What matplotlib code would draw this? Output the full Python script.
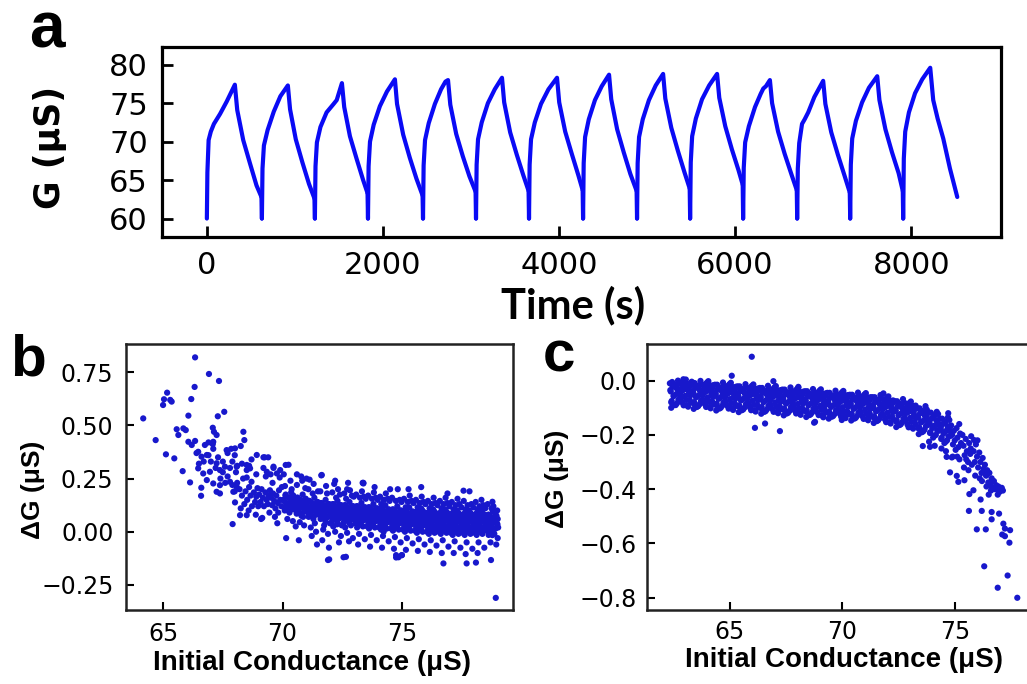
import numpy as np
import matplotlib.pyplot as plt

plt.rcParams['font.family'] = 'DejaVu Sans'
plt.rcParams['xtick.direction'] = 'in'
plt.rcParams['ytick.direction'] = 'in'

blue_line = '#0a0af5'
blue_dot = '#1818cc'

# ---- panel a: conductance vs time (one list per pulse cycle) ----
a_t = [
    [0, 6, 20, 45, 80, 150, 225, 318, 345, 413, 489, 564, 620],
    [625, 632, 648, 690, 760, 835, 920, 945, 1010, 1085, 1160, 1222],
    [1227, 1234, 1250, 1290, 1360, 1440, 1475, 1534, 1560, 1625, 1700, 1775, 1825],
    [1830, 1837, 1853, 1895, 1965, 2045, 2136, 2160, 2230, 2305, 2380, 2450],
    [2455, 2462, 2478, 2520, 2590, 2660, 2710, 2739, 2765, 2832, 2907, 2982, 3052],
    [3057, 3064, 3080, 3122, 3192, 3270, 3352, 3377, 3445, 3520, 3595, 3654],
    [3659, 3666, 3682, 3725, 3795, 3880, 3977, 4002, 4070, 4145, 4220, 4268],
    [4273, 4280, 4296, 4338, 4408, 4485, 4568, 4593, 4660, 4735, 4810, 4881],
    [4886, 4893, 4909, 4951, 5021, 5098, 5182, 5207, 5275, 5350, 5425, 5484],
    [5489, 5496, 5512, 5554, 5624, 5705, 5795, 5820, 5888, 5963, 6038, 6086],
    [6091, 6098, 6114, 6156, 6226, 6290, 6320, 6350, 6395, 6420, 6488, 6563, 6638, 6700],
    [6705, 6712, 6728, 6760, 6790, 6830, 6900, 7000, 7025, 7092, 7167, 7242, 7302],
    [7307, 7314, 7330, 7372, 7442, 7520, 7614, 7639, 7707, 7782, 7857, 7904],
    [7909, 7916, 7932, 7974, 8044, 8125, 8216, 8250, 8300, 8364, 8440, 8523],
]
a_g = [
    [60.0, 66.0, 70.2, 71.3, 72.3, 73.6, 75.2, 77.4, 74.1, 70.2, 67.2, 64.3, 62.8],
    [60.0, 66.5, 69.5, 71.5, 73.9, 75.9, 77.3, 74.2, 70.3, 67.3, 64.5, 62.6],
    [60.0, 66.8, 69.9, 71.9, 73.8, 74.9, 75.4, 77.6, 74.5, 70.7, 67.8, 65.0, 63.3],
    [60.0, 66.8, 70.0, 72.2, 74.6, 76.5, 78.1, 74.9, 70.9, 67.9, 65.2, 63.0],
    [60.0, 66.9, 70.2, 72.4, 74.9, 76.8, 77.8, 78.0, 74.8, 71.0, 68.1, 65.5, 63.5],
    [60.0, 67.0, 70.3, 72.5, 75.0, 76.8, 78.3, 75.1, 71.2, 68.3, 65.6, 63.6],
    [60.0, 67.0, 70.3, 72.5, 74.9, 76.8, 78.3, 75.1, 71.3, 68.4, 65.6, 63.7],
    [60.0, 67.2, 70.6, 72.9, 75.4, 77.2, 78.7, 75.5, 71.6, 68.6, 65.8, 63.6],
    [60.0, 67.2, 70.6, 72.9, 75.4, 77.3, 78.8, 75.6, 71.8, 68.8, 66.0, 63.9],
    [60.0, 67.3, 70.7, 73.0, 75.5, 77.3, 78.8, 75.7, 72.0, 69.0, 66.3, 64.4],
    [60.0, 66.6, 69.9, 72.0, 74.5, 76.2, 76.9, 77.2, 78.0, 75.0, 71.3, 68.4, 65.8, 63.7],
    [60.0, 66.5, 69.8, 72.3, 72.9, 73.8, 75.8, 77.9, 74.9, 71.2, 68.3, 65.6, 63.4],
    [60.0, 67.0, 70.4, 72.7, 75.1, 77.0, 78.5, 75.4, 71.6, 68.6, 65.9, 63.6],
    [60.0, 67.8, 71.3, 73.8, 76.3, 78.1, 79.6, 75.4, 73.0, 70.4, 66.5, 62.8],
]
a_xticks = [0, 2000, 4000, 6000, 8000]
a_yticks = [60, 65, 70, 75, 80]

# ---- panel b: dG vs initial conductance (potentiation) ----
b_sparse = [
    (66.34, 0.820), (66.92, 0.742), (67.34, 0.709), (66.32, 0.681), (65.17, 0.654),
    (65.04, 0.623), (65.30, 0.620), (65.00, 0.596), (65.36, 0.612), (66.18, 0.624),
    (64.17, 0.533), (66.06, 0.546), (67.56, 0.564), (67.29, 0.543), (64.69, 0.431),
    (65.57, 0.482), (65.85, 0.486), (65.95, 0.478), (65.64, 0.455), (67.08, 0.489),
    (67.13, 0.470), (67.24, 0.455), (68.36, 0.470), (68.40, 0.431), (65.12, 0.364),
    (65.47, 0.345), (65.82, 0.285), (66.13, 0.232), (66.60, 0.207), (66.59, 0.169),
    (66.06, 0.423), (66.34, 0.427), (66.20, 0.408), (66.75, 0.408), (67.10, 0.423),
    (67.08, 0.412), (66.47, 0.376), (66.61, 0.353), (66.83, 0.361), (67.66, 0.384),
    (68.01, 0.392), (68.25, 0.403), (68.92, 0.361), (69.20, 0.350), (70.13, 0.314),
    (71.64, 0.267), (66.47, 0.298), (66.96, 0.282), (66.68, 0.274), (67.24, 0.322),
    (67.38, 0.290), (67.59, 0.306), (68.08, 0.306), (68.50, 0.314), (68.64, 0.298),
    (69.34, 0.282), (69.62, 0.306), (69.76, 0.274), (66.83, 0.243), (67.10, 0.227),
    (67.38, 0.219), (67.80, 0.235), (68.08, 0.211), (67.94, 0.188), (67.24, 0.188),
    (67.38, 0.180), (68.01, 0.138), (68.22, 0.078), (68.50, 0.078), (67.91, 0.036),
    (73.38, 0.227), (72.20, 0.240), (70.60, 0.270), (69.90, 0.290), (71.00, 0.250),
    (72.70, 0.200), (74.50, 0.200), (75.80, 0.210), (76.90, 0.180), (73.35, 0.230),
    (68.20, 0.200), (68.30, 0.170), (68.10, 0.230), (68.35, 0.250), (67.90, 0.220),
    (68.00, 0.190), (67.70, 0.260), (67.60, 0.230), (68.40, 0.130), (68.25, 0.110),
    (67.80, 0.300), (68.05, 0.280), (67.50, 0.280), (67.40, 0.250), (67.20, 0.300),
    (67.00, 0.330), (66.90, 0.360), (67.10, 0.390), (66.70, 0.330), (66.50, 0.320),
    (66.40, 0.370), (66.90, 0.420), (67.30, 0.350), (67.50, 0.330), (67.70, 0.370),
    (67.90, 0.330), (68.10, 0.310), (67.85, 0.390), (68.00, 0.360), (68.30, 0.320),
    (68.50, 0.290), (68.60, 0.310), (68.70, 0.340), (69.20, 0.300), (69.50, 0.270),
    (68.90, 0.270), (71.90, -0.133), (72.65, -0.118), (74.75, -0.121), (74.99, -0.110),
    (76.73, -0.149), (77.70, -0.149), (78.72, -0.133), (78.92, -0.311), (77.57, 0.193),
    (78.78, 0.141), (78.78, -0.016),
]
b_band = [
    (68.45, 0.19), (68.52, 0.15), (68.6, 0.21), (68.66, 0.17), (68.72, 0.12), (68.8, 0.185),
    (68.85, 0.14), (68.9, 0.165), (68.95, 0.205), (68.58, 0.10), (68.7, 0.235), (68.88, 0.08),
    (68.5, 0.255), (68.98, 0.12),
    (69.02, 0.175), (69.08, 0.14), (69.12, 0.2), (69.18, 0.16), (69.22, 0.12), (69.28, 0.185),
    (69.33, 0.15), (69.38, 0.13), (69.42, 0.17), (69.47, 0.195), (69.1, 0.06), (69.3, 0.26),
    (69.45, 0.09), (69.25, 0.35), (69.4, 0.35), (69.15, 0.065),
    (69.52, 0.16), (69.56, 0.125), (69.6, 0.18), (69.65, 0.145), (69.7, 0.11), (69.74, 0.17),
    (69.8, 0.135), (69.85, 0.195), (69.9, 0.15), (69.95, 0.12), (69.58, 0.23), (69.68, 0.07),
    (69.88, 0.255), (69.78, 0.04), (69.62, 0.3), (69.97, 0.21), (69.82, 0.09),
    (70.03, 0.15), (70.07, 0.115), (70.12, 0.17), (70.17, 0.135), (70.22, 0.1), (70.27, 0.16),
    (70.3, 0.125), (70.36, 0.185), (70.4, 0.14), (70.46, 0.105), (70.1, 0.215), (70.2, 0.06),
    (70.33, 0.24), (70.43, 0.05), (70.05, 0.27), (70.15, -0.03), (70.25, 0.315), (70.38, 0.2),
    (70.48, 0.16),
    (70.53, 0.14), (70.57, 0.105), (70.62, 0.16), (70.66, 0.125), (70.7, 0.09), (70.75, 0.15),
    (70.8, 0.115), (70.84, 0.175), (70.88, 0.135), (70.93, 0.1), (70.97, 0.155), (70.6, 0.22),
    (70.72, 0.045), (70.82, 0.24), (70.9, 0.03), (70.55, 0.025), (70.78, 0.26), (70.95, 0.205),
    (70.68, -0.04), (70.86, 0.07),
    (71.02, 0.125), (71.06, 0.09), (71.1, 0.145), (71.15, 0.11), (71.2, 0.075), (71.24, 0.135),
    (71.28, 0.1), (71.33, 0.16), (71.37, 0.12), (71.42, 0.085), (71.46, 0.14), (71.08, 0.2),
    (71.18, 0.02), (71.3, 0.225), (71.4, 0.0), (71.13, 0.245), (71.22, -0.02), (71.35, 0.04),
    (71.48, 0.19), (71.44, -0.06), (71.26, 0.18),
    (71.52, 0.115), (71.56, 0.08), (71.6, 0.135), (71.64, 0.1), (71.68, 0.065), (71.72, 0.125),
    (71.76, 0.09), (71.8, 0.15), (71.84, 0.11), (71.88, 0.07), (71.92, 0.13), (71.96, 0.095),
    (71.58, 0.19), (71.7, 0.01), (71.82, 0.215), (71.9, -0.01), (71.62, 0.265), (71.74, 0.03),
    (71.86, 0.18), (71.98, 0.04), (71.66, -0.04), (71.94, -0.075), (71.95, -0.13),
    (72.02, 0.11), (72.06, 0.075), (72.1, 0.13), (72.14, 0.095), (72.18, 0.06), (72.22, 0.12),
    (72.26, 0.085), (72.3, 0.145), (72.34, 0.105), (72.38, 0.065), (72.42, 0.125), (72.46, 0.09),
    (72.08, 0.185), (72.2, 0.0), (72.32, 0.2), (72.44, -0.02), (72.12, 0.025), (72.28, 0.035),
    (72.4, 0.175), (72.48, 0.03), (72.16, 0.225), (72.36, -0.05), (72.24, 0.16), (72.04, 0.04),
    (72.52, 0.105), (72.56, 0.07), (72.6, 0.125), (72.64, 0.09), (72.68, 0.055), (72.72, 0.115),
    (72.76, 0.08), (72.8, 0.14), (72.84, 0.1), (72.88, 0.06), (72.92, 0.12), (72.96, 0.085),
    (72.58, 0.18), (72.7, -0.005), (72.82, 0.195), (72.94, -0.03), (72.62, 0.02), (72.74, 0.23),
    (72.86, 0.03), (72.98, 0.165), (72.66, 0.155), (72.78, -0.045), (72.9, 0.17), (72.55, -0.12),
    (72.54, 0.04),
    (73.02, 0.1), (73.06, 0.065), (73.1, 0.12), (73.14, 0.085), (73.18, 0.05), (73.22, 0.11),
    (73.26, 0.075), (73.3, 0.135), (73.34, 0.095), (73.38, 0.055), (73.42, 0.115), (73.46, 0.08),
    (73.08, 0.175), (73.2, -0.01), (73.32, 0.19), (73.44, -0.035), (73.12, 0.02), (73.24, 0.16),
    (73.36, 0.025), (73.48, 0.155), (73.16, -0.06), (73.28, 0.035), (73.4, 0.165), (73.04, 0.04),
    (73.38, 0.23),
    (73.52, 0.095), (73.56, 0.06), (73.6, 0.115), (73.64, 0.08), (73.68, 0.045), (73.72, 0.105),
    (73.76, 0.07), (73.8, 0.13), (73.84, 0.09), (73.88, 0.05), (73.92, 0.11), (73.96, 0.075),
    (73.58, 0.17), (73.7, -0.015), (73.82, 0.185), (73.94, -0.04), (73.62, 0.015), (73.74, 0.155),
    (73.86, 0.02), (73.98, 0.15), (73.66, -0.07), (73.78, 0.03), (73.9, 0.16), (73.54, 0.025),
    (73.85, 0.21),
    (74.02, 0.09), (74.06, 0.055), (74.1, 0.11), (74.14, 0.075), (74.18, 0.04), (74.22, 0.1),
    (74.26, 0.065), (74.3, 0.125), (74.34, 0.085), (74.38, 0.045), (74.42, 0.105), (74.46, 0.07),
    (74.08, 0.165), (74.2, -0.02), (74.32, 0.18), (74.44, -0.045), (74.12, 0.01), (74.24, 0.15),
    (74.36, 0.015), (74.48, 0.145), (74.16, -0.075), (74.28, 0.025), (74.4, 0.155), (74.04, 0.02),
    (74.23, 0.0), (74.13, 0.13),
    (74.52, 0.085), (74.56, 0.05), (74.6, 0.105), (74.64, 0.07), (74.68, 0.035), (74.72, 0.095),
    (74.76, 0.06), (74.8, 0.12), (74.84, 0.08), (74.88, 0.04), (74.92, 0.1), (74.96, 0.065),
    (74.58, 0.16), (74.7, -0.025), (74.82, 0.2), (74.94, -0.05), (74.62, 0.005), (74.74, 0.145),
    (74.86, 0.01), (74.98, 0.14), (74.66, -0.08), (74.78, 0.02), (74.9, 0.15), (74.54, 0.015),
    (74.75, -0.11), (74.85, -0.12), (74.99, -0.11),
    (75.02, 0.08), (75.06, 0.045), (75.1, 0.1), (75.14, 0.065), (75.18, 0.03), (75.22, 0.09),
    (75.26, 0.055), (75.3, 0.115), (75.34, 0.075), (75.38, 0.035), (75.42, 0.095), (75.46, 0.06),
    (75.08, 0.155), (75.2, -0.03), (75.32, 0.17), (75.44, -0.055), (75.12, 0.0), (75.24, 0.14),
    (75.36, 0.005), (75.48, 0.135), (75.16, -0.085), (75.28, 0.015), (75.4, 0.145), (75.04, 0.01),
    (75.27, 0.2), (75.15, 0.115), (75.35, 0.05),
    (75.52, 0.075), (75.56, 0.04), (75.6, 0.095), (75.64, 0.06), (75.68, 0.025), (75.72, 0.085),
    (75.76, 0.05), (75.8, 0.11), (75.84, 0.07), (75.88, 0.03), (75.92, 0.09), (75.96, 0.055),
    (75.58, 0.15), (75.7, -0.035), (75.82, 0.165), (75.94, -0.06), (75.62, -0.005), (75.74, 0.135),
    (75.86, 0.0), (75.98, 0.13), (75.66, -0.09), (75.78, 0.01), (75.9, 0.14), (75.54, 0.005),
    (75.65, 0.115), (75.85, 0.1), (75.75, 0.075),
    (76.02, 0.07), (76.06, 0.035), (76.1, 0.09), (76.14, 0.055), (76.18, 0.02), (76.22, 0.08),
    (76.26, 0.045), (76.3, 0.105), (76.34, 0.065), (76.38, 0.025), (76.42, 0.085), (76.46, 0.05),
    (76.08, 0.145), (76.2, -0.04), (76.32, 0.16), (76.44, -0.065), (76.12, -0.01), (76.24, 0.13),
    (76.36, -0.005), (76.48, 0.125), (76.16, -0.095), (76.28, 0.005), (76.4, 0.135), (76.04, 0.0),
    (76.15, 0.11), (76.35, 0.095), (76.25, 0.075), (76.45, 0.01),
    (76.52, 0.07), (76.56, 0.035), (76.6, 0.09), (76.64, 0.055), (76.68, 0.02), (76.72, 0.08),
    (76.76, 0.045), (76.8, 0.105), (76.84, 0.065), (76.88, 0.025), (76.92, 0.085), (76.96, 0.05),
    (76.58, 0.145), (76.7, -0.04), (76.82, 0.16), (76.94, -0.07), (76.62, -0.01), (76.74, 0.13),
    (76.86, -0.005), (76.98, 0.12), (76.66, -0.1), (76.78, 0.005), (76.9, 0.135), (76.54, 0.0),
    (76.65, 0.11), (76.85, 0.095), (76.75, 0.075), (76.95, 0.01),
    (77.02, 0.065), (77.06, 0.03), (77.1, 0.085), (77.14, 0.05), (77.18, 0.015), (77.22, 0.075),
    (77.26, 0.04), (77.3, 0.1), (77.34, 0.06), (77.38, 0.02), (77.42, 0.08), (77.46, 0.045),
    (77.08, 0.14), (77.2, -0.045), (77.32, 0.155), (77.44, -0.075), (77.12, -0.015), (77.24, 0.125),
    (77.36, -0.01), (77.48, 0.115), (77.16, -0.1), (77.28, 0.0), (77.4, 0.13), (77.04, -0.005),
    (77.15, 0.105), (77.35, 0.09), (77.25, 0.07), (77.45, 0.005),
    (77.52, 0.065), (77.56, 0.03), (77.6, 0.085), (77.64, 0.05), (77.68, 0.015), (77.72, 0.075),
    (77.76, 0.04), (77.8, 0.1), (77.84, 0.06), (77.88, 0.02), (77.92, 0.08), (77.96, 0.045),
    (77.58, 0.145), (77.7, -0.05), (77.82, 0.19), (77.94, -0.08), (77.62, -0.015), (77.74, 0.125),
    (77.86, -0.01), (77.98, 0.115), (77.66, -0.105), (77.78, 0.0), (77.9, 0.13), (77.54, -0.005),
    (77.65, 0.105), (77.85, 0.09), (77.75, 0.07), (77.95, 0.005),
    (78.02, 0.065), (78.06, 0.03), (78.1, 0.085), (78.14, 0.05), (78.18, 0.015), (78.22, 0.075),
    (78.26, 0.04), (78.3, 0.1), (78.34, 0.06), (78.38, 0.02), (78.42, 0.08), (78.46, 0.045),
    (78.08, 0.14), (78.2, -0.05), (78.32, 0.15), (78.44, -0.075), (78.12, -0.015), (78.24, 0.12),
    (78.36, -0.01), (78.48, 0.11), (78.16, -0.1), (78.28, 0.0), (78.4, 0.125), (78.04, -0.005),
    (78.15, 0.105), (78.35, 0.09), (78.25, 0.07), (78.45, 0.005), (78.09, -0.145),
    (78.52, 0.06), (78.56, 0.025), (78.6, 0.08), (78.64, 0.045), (78.68, 0.01), (78.72, 0.07),
    (78.76, 0.035), (78.8, 0.095), (78.84, 0.055), (78.88, 0.015), (78.92, 0.075), (78.96, 0.04),
    (79.0, 0.06), (79.02, 0.02), (78.58, 0.13), (78.7, -0.05), (78.82, 0.12), (78.94, -0.06),
    (78.62, -0.015), (78.74, 0.11), (78.86, -0.01), (78.98, 0.1), (79.0, -0.03), (78.9, 0.09),
]
# extra points in the solid core of the band
b_core = [
    (70.05, 0.145), (70.09, 0.10), (70.13, 0.175), (70.21, 0.125), (70.25, 0.16), (70.29, 0.09),
    (70.37, 0.147), (70.41, 0.11), (70.45, 0.17), (70.49, 0.13),
    (70.55, 0.13), (70.59, 0.085), (70.63, 0.16), (70.71, 0.11), (70.75, 0.145), (70.79, 0.075),
    (70.87, 0.132), (70.91, 0.095), (70.95, 0.155), (70.99, 0.115),
    (71.05, 0.115), (71.09, 0.07), (71.13, 0.145), (71.21, 0.095), (71.25, 0.13), (71.29, 0.06),
    (71.37, 0.117), (71.41, 0.08), (71.45, 0.14), (71.49, 0.1),
    (71.55, 0.105), (71.59, 0.06), (71.63, 0.135), (71.71, 0.085), (71.75, 0.12), (71.79, 0.05),
    (71.87, 0.107), (71.91, 0.07), (71.95, 0.13), (71.99, 0.09),
    (72.05, 0.1), (72.09, 0.055), (72.13, 0.13), (72.21, 0.08), (72.25, 0.115), (72.29, 0.045),
    (72.37, 0.102), (72.41, 0.065), (72.45, 0.125), (72.49, 0.085),
    (72.55, 0.095), (72.59, 0.05), (72.63, 0.125), (72.71, 0.075), (72.75, 0.11), (72.79, 0.04),
    (72.87, 0.097), (72.91, 0.06), (72.95, 0.12), (72.99, 0.08),
    (73.05, 0.09), (73.09, 0.045), (73.13, 0.12), (73.21, 0.07), (73.25, 0.105), (73.29, 0.035),
    (73.37, 0.092), (73.41, 0.055), (73.45, 0.115), (73.49, 0.075),
    (73.55, 0.085), (73.59, 0.04), (73.63, 0.115), (73.71, 0.065), (73.75, 0.1), (73.79, 0.03),
    (73.87, 0.087), (73.91, 0.05), (73.95, 0.11), (73.99, 0.07),
    (74.05, 0.08), (74.09, 0.035), (74.13, 0.11), (74.21, 0.06), (74.25, 0.095), (74.29, 0.025),
    (74.37, 0.082), (74.41, 0.045), (74.45, 0.105), (74.49, 0.065),
    (74.55, 0.075), (74.59, 0.03), (74.63, 0.105), (74.71, 0.055), (74.75, 0.09), (74.79, 0.02),
    (74.87, 0.077), (74.91, 0.04), (74.95, 0.1), (74.99, 0.06),
    (75.05, 0.07), (75.09, 0.025), (75.13, 0.1), (75.21, 0.05), (75.25, 0.085), (75.29, 0.015),
    (75.37, 0.072), (75.41, 0.035), (75.45, 0.095), (75.49, 0.055),
    (75.55, 0.065), (75.59, 0.02), (75.63, 0.095), (75.71, 0.045), (75.75, 0.08), (75.79, 0.01),
    (75.87, 0.067), (75.91, 0.03), (75.95, 0.09), (75.99, 0.05),
    (76.05, 0.06), (76.09, 0.015), (76.13, 0.09), (76.21, 0.04), (76.25, 0.075), (76.29, 0.005),
    (76.37, 0.062), (76.41, 0.025), (76.45, 0.085), (76.49, 0.045),
    (76.55, 0.06), (76.59, 0.015), (76.63, 0.09), (76.71, 0.04), (76.75, 0.075), (76.79, 0.005),
    (76.87, 0.062), (76.91, 0.025), (76.95, 0.085), (76.99, 0.045),
    (77.05, 0.055), (77.09, 0.01), (77.13, 0.085), (77.21, 0.035), (77.25, 0.07), (77.29, 0.0),
    (77.37, 0.057), (77.41, 0.02), (77.45, 0.08), (77.49, 0.04),
    (77.55, 0.055), (77.59, 0.01), (77.63, 0.085), (77.71, 0.035), (77.75, 0.07), (77.79, 0.0),
    (77.87, 0.057), (77.91, 0.02), (77.95, 0.08), (77.99, 0.04),
    (78.05, 0.055), (78.09, 0.01), (78.13, 0.085), (78.21, 0.035), (78.25, 0.07), (78.29, 0.0),
    (78.37, 0.057), (78.41, 0.02), (78.45, 0.08), (78.49, 0.04),
    (78.55, 0.05), (78.59, 0.005), (78.63, 0.08), (78.71, 0.03), (78.75, 0.065), (78.79, -0.005),
    (78.87, 0.052), (78.91, 0.015), (78.95, 0.075), (78.99, 0.035),
]
b_xticks = [65, 70, 75]
b_yticks = [-0.25, 0.0, 0.25, 0.5, 0.75]

# ---- panel c: dG vs initial conductance (depression) ----
c_band = [
    (62.33, -0.01), (62.37, -0.04), (62.41, -0.075), (62.45, -0.023), (62.49, -0.057), (62.53, -0.09),
    (62.57, -0.015), (62.61, -0.05), (62.65, -0.083), (62.69, 0.0), (62.73, -0.033), (62.77, -0.067),
    (62.39, -0.1), (62.63, -0.027),
    (62.82, -0.066), (62.86, -0.016), (62.9, -0.036), (62.94, -0.091), (62.98, -0.001), (63.02, -0.031),
    (63.06, -0.071), (63.1, -0.011), (63.14, -0.096), (63.18, -0.046), (63.22, -0.021), (63.26, -0.081),
    (63.04, 0.004), (63.24, -0.054),
    (63.33, -0.009), (63.37, -0.044), (63.41, -0.079), (63.45, -0.027), (63.49, -0.061), (63.53, -0.097),
    (63.57, -0.019), (63.61, -0.054), (63.65, -0.087), (63.69, -0.001), (63.73, -0.037), (63.77, -0.071),
    (63.39, -0.104), (63.63, -0.031),
    (63.82, -0.072), (63.86, -0.022), (63.9, -0.042), (63.94, -0.097), (63.98, -0.007), (64.02, -0.037),
    (64.06, -0.077), (64.1, -0.017), (64.14, -0.102), (64.18, -0.052), (64.22, -0.027), (64.26, -0.087),
    (64.04, -0.002), (64.24, -0.06),
    (64.33, -0.015), (64.37, -0.05), (64.41, -0.085), (64.45, -0.033), (64.49, -0.067), (64.53, -0.103),
    (64.57, -0.025), (64.61, -0.06), (64.65, -0.093), (64.69, -0.007), (64.73, -0.043), (64.77, -0.077),
    (64.39, -0.11), (64.63, -0.037),
    (64.82, -0.078), (64.86, -0.028), (64.9, -0.048), (64.94, -0.103), (64.98, -0.013), (65.02, -0.043),
    (65.06, -0.083), (65.1, -0.023), (65.14, -0.108), (65.18, -0.058), (65.22, -0.033), (65.26, -0.093),
    (65.04, -0.008), (65.24, -0.066),
    (65.33, -0.021), (65.37, -0.056), (65.41, -0.091), (65.45, -0.039), (65.49, -0.073), (65.53, -0.109),
    (65.57, -0.031), (65.61, -0.066), (65.65, -0.099), (65.69, -0.013), (65.73, -0.049), (65.77, -0.083),
    (65.39, -0.116), (65.63, -0.043),
    (65.82, -0.084), (65.86, -0.034), (65.9, -0.054), (65.94, -0.109), (65.98, -0.019), (66.02, -0.049),
    (66.06, -0.089), (66.1, -0.029), (66.14, -0.114), (66.18, -0.064), (66.22, -0.039), (66.26, -0.099),
    (66.04, -0.014), (66.24, -0.072),
    (66.33, -0.027), (66.37, -0.062), (66.41, -0.097), (66.45, -0.045), (66.49, -0.079), (66.53, -0.115),
    (66.57, -0.037), (66.61, -0.072), (66.65, -0.105), (66.69, -0.019), (66.73, -0.055), (66.77, -0.089),
    (66.39, -0.122), (66.63, -0.049),
    (66.82, -0.09), (66.86, -0.04), (66.9, -0.06), (66.94, -0.115), (66.98, -0.025), (67.02, -0.055),
    (67.06, -0.095), (67.1, -0.035), (67.14, -0.12), (67.18, -0.07), (67.22, -0.045), (67.26, -0.105),
    (67.04, -0.02), (67.24, -0.078),
    (67.33, -0.033), (67.37, -0.068), (67.41, -0.103), (67.45, -0.051), (67.49, -0.085), (67.53, -0.121),
    (67.57, -0.043), (67.61, -0.078), (67.65, -0.111), (67.69, -0.025), (67.73, -0.061), (67.77, -0.095),
    (67.39, -0.128), (67.63, -0.055),
    (67.82, -0.096), (67.86, -0.046), (67.9, -0.066), (67.94, -0.121), (67.98, -0.031), (68.02, -0.061),
    (68.06, -0.101), (68.1, -0.041), (68.14, -0.126), (68.18, -0.076), (68.22, -0.051), (68.26, -0.111),
    (68.04, -0.026), (68.24, -0.084),
    (68.33, -0.039), (68.37, -0.074), (68.41, -0.109), (68.45, -0.057), (68.49, -0.091), (68.53, -0.127),
    (68.57, -0.049), (68.61, -0.084), (68.65, -0.117), (68.69, -0.031), (68.73, -0.067), (68.77, -0.101),
    (68.39, -0.134), (68.63, -0.061),
    (68.82, -0.102), (68.86, -0.052), (68.9, -0.072), (68.94, -0.127), (68.98, -0.037), (69.02, -0.067),
    (69.06, -0.107), (69.1, -0.047), (69.14, -0.132), (69.18, -0.082), (69.22, -0.057), (69.26, -0.117),
    (69.04, -0.032), (69.24, -0.09),
    (69.33, -0.045), (69.37, -0.08), (69.41, -0.115), (69.45, -0.063), (69.49, -0.097), (69.53, -0.133),
    (69.57, -0.055), (69.61, -0.09), (69.65, -0.123), (69.69, -0.037), (69.73, -0.073), (69.77, -0.107),
    (69.39, -0.14), (69.63, -0.067),
    (69.82, -0.108), (69.86, -0.058), (69.9, -0.078), (69.94, -0.133), (69.98, -0.043), (70.02, -0.073),
    (70.06, -0.113), (70.1, -0.053), (70.14, -0.138), (70.18, -0.088), (70.22, -0.063), (70.26, -0.123),
    (70.04, -0.038), (70.24, -0.096),
    (70.33, -0.052), (70.37, -0.087), (70.41, -0.122), (70.45, -0.07), (70.49, -0.104), (70.53, -0.14),
    (70.57, -0.062), (70.61, -0.097), (70.65, -0.13), (70.69, -0.044), (70.73, -0.08), (70.77, -0.114),
    (70.39, -0.147), (70.63, -0.074),
    (70.82, -0.116), (70.86, -0.066), (70.9, -0.086), (70.94, -0.141), (70.98, -0.051), (71.02, -0.081),
    (71.06, -0.121), (71.1, -0.061), (71.14, -0.146), (71.18, -0.096), (71.22, -0.071), (71.26, -0.131),
    (71.04, -0.046), (71.24, -0.104),
    (71.33, -0.061), (71.37, -0.096), (71.41, -0.131), (71.45, -0.079), (71.49, -0.113), (71.53, -0.149),
    (71.57, -0.071), (71.61, -0.106), (71.65, -0.139), (71.69, -0.053), (71.73, -0.089), (71.77, -0.123),
    (71.39, -0.156), (71.63, -0.083),
    (71.82, -0.128), (71.86, -0.078), (71.9, -0.098), (71.94, -0.153), (71.98, -0.063), (72.02, -0.093),
    (72.06, -0.133), (72.1, -0.073), (72.14, -0.158), (72.18, -0.108), (72.22, -0.083), (72.26, -0.143),
    (72.04, -0.058), (72.24, -0.116),
    (72.33, -0.076), (72.37, -0.111), (72.41, -0.146), (72.45, -0.094), (72.49, -0.128), (72.53, -0.164),
    (72.57, -0.086), (72.61, -0.121), (72.65, -0.154), (72.69, -0.068), (72.73, -0.104), (72.77, -0.138),
    (72.39, -0.171), (72.63, -0.098),
    (72.82, -0.147), (72.86, -0.097), (72.9, -0.117), (72.94, -0.172), (72.98, -0.082), (73.02, -0.112),
    (73.06, -0.152), (73.1, -0.092), (73.14, -0.177), (73.18, -0.127), (73.22, -0.102), (73.26, -0.162),
    (73.04, -0.077), (73.24, -0.135),
    (73.33, -0.102), (73.37, -0.137), (73.41, -0.172), (73.45, -0.12), (73.49, -0.154), (73.53, -0.19),
    (73.57, -0.112), (73.61, -0.147), (73.65, -0.18), (73.69, -0.094), (73.73, -0.13), (73.77, -0.164),
    (73.39, -0.197), (73.63, -0.124),
    (73.83, -0.118), (73.87, -0.155), (73.91, -0.19), (73.95, -0.14), (73.99, -0.175), (74.03, -0.21),
    (74.07, -0.13), (74.11, -0.165), (74.15, -0.2), (74.19, -0.115), (74.23, -0.15), (74.27, -0.185),
    (73.85, -0.225), (74.1, -0.24),
    (74.33, -0.14), (74.37, -0.175), (74.41, -0.21), (74.45, -0.16), (74.49, -0.195), (74.53, -0.23),
    (74.57, -0.15), (74.61, -0.185), (74.65, -0.22), (74.69, -0.135), (74.73, -0.17), (74.77, -0.205),
    (74.4, -0.25), (74.6, -0.26), (74.7, -0.12),
    (74.83, -0.165), (74.87, -0.2), (74.91, -0.235), (74.95, -0.185), (74.99, -0.22), (75.03, -0.255),
    (75.07, -0.175), (75.11, -0.21), (75.15, -0.245), (75.19, -0.16), (75.23, -0.195), (75.27, -0.23),
    (74.9, -0.28), (75.1, -0.28), (75.2, -0.29),
    (75.33, -0.2), (75.38, -0.24), (75.43, -0.275), (75.48, -0.215), (75.53, -0.26), (75.58, -0.3),
    (75.63, -0.23), (75.68, -0.27), (75.72, -0.205), (75.75, -0.31), (75.4, -0.32), (75.6, -0.33),
    (75.7, -0.25), (75.5, -0.29),
    (75.83, -0.26), (75.88, -0.3), (75.93, -0.235), (75.98, -0.28), (76.03, -0.32), (76.08, -0.265),
    (76.13, -0.3), (76.18, -0.34), (76.23, -0.285), (76.27, -0.325), (75.9, -0.35), (76.1, -0.36),
    (76.2, -0.37), (76.0, -0.22),
    (76.33, -0.31), (76.38, -0.35), (76.43, -0.33), (76.48, -0.375), (76.53, -0.34), (76.58, -0.38),
    (76.63, -0.36), (76.68, -0.395), (76.73, -0.37), (76.78, -0.4), (76.4, -0.39), (76.6, -0.405),
    (76.5, -0.42),
    (76.83, -0.385), (76.88, -0.4), (76.93, -0.39), (76.98, -0.41), (77.03, -0.4), (77.08, -0.395),
    (77.13, -0.405), (76.9, -0.42),
]
c_core = [
    (62.35, -0.035), (62.39, -0.08), (62.43, -0.005), (62.51, -0.055), (62.55, -0.02), (62.59, -0.09),
    (62.67, -0.033), (62.71, -0.07), (62.75, -0.01), (62.79, -0.05),
    (62.85, -0.036), (62.89, -0.081), (62.93, -0.006), (63.01, -0.056), (63.05, -0.021), (63.09, -0.091),
    (63.17, -0.034), (63.21, -0.071), (63.25, -0.011), (63.29, -0.051),
    (63.35, -0.039), (63.39, -0.084), (63.43, -0.009), (63.51, -0.059), (63.55, -0.024), (63.59, -0.094),
    (63.67, -0.037), (63.71, -0.074), (63.75, -0.014), (63.79, -0.054),
    (63.85, -0.042), (63.89, -0.087), (63.93, -0.012), (64.01, -0.062), (64.05, -0.027), (64.09, -0.097),
    (64.17, -0.04), (64.21, -0.077), (64.25, -0.017), (64.29, -0.057),
    (64.35, -0.045), (64.39, -0.09), (64.43, -0.015), (64.51, -0.065), (64.55, -0.03), (64.59, -0.1),
    (64.67, -0.043), (64.71, -0.08), (64.75, -0.02), (64.79, -0.06),
    (64.85, -0.048), (64.89, -0.093), (64.93, -0.018), (65.01, -0.068), (65.05, -0.033), (65.09, -0.103),
    (65.17, -0.046), (65.21, -0.083), (65.25, -0.023), (65.29, -0.063),
    (65.35, -0.051), (65.39, -0.096), (65.43, -0.021), (65.51, -0.071), (65.55, -0.036), (65.59, -0.106),
    (65.67, -0.049), (65.71, -0.086), (65.75, -0.026), (65.79, -0.066),
    (65.85, -0.054), (65.89, -0.099), (65.93, -0.024), (66.01, -0.074), (66.05, -0.039), (66.09, -0.109),
    (66.17, -0.052), (66.21, -0.089), (66.25, -0.029), (66.29, -0.069),
    (66.35, -0.057), (66.39, -0.102), (66.43, -0.027), (66.51, -0.077), (66.55, -0.042), (66.59, -0.112),
    (66.67, -0.055), (66.71, -0.092), (66.75, -0.032), (66.79, -0.072),
    (66.85, -0.06), (66.89, -0.105), (66.93, -0.03), (67.01, -0.08), (67.05, -0.045), (67.09, -0.115),
    (67.17, -0.058), (67.21, -0.095), (67.25, -0.035), (67.29, -0.075),
    (67.35, -0.063), (67.39, -0.108), (67.43, -0.033), (67.51, -0.083), (67.55, -0.048), (67.59, -0.118),
    (67.67, -0.061), (67.71, -0.098), (67.75, -0.038), (67.79, -0.078),
    (67.85, -0.066), (67.89, -0.111), (67.93, -0.036), (68.01, -0.086), (68.05, -0.051), (68.09, -0.121),
    (68.17, -0.064), (68.21, -0.101), (68.25, -0.041), (68.29, -0.081),
    (68.35, -0.069), (68.39, -0.114), (68.43, -0.039), (68.51, -0.089), (68.55, -0.054), (68.59, -0.124),
    (68.67, -0.067), (68.71, -0.104), (68.75, -0.044), (68.79, -0.084),
    (68.85, -0.072), (68.89, -0.117), (68.93, -0.042), (69.01, -0.092), (69.05, -0.057), (69.09, -0.127),
    (69.17, -0.07), (69.21, -0.107), (69.25, -0.047), (69.29, -0.087),
    (69.35, -0.075), (69.39, -0.12), (69.43, -0.045), (69.51, -0.095), (69.55, -0.06), (69.59, -0.13),
    (69.67, -0.073), (69.71, -0.11), (69.75, -0.05), (69.79, -0.09),
    (69.85, -0.078), (69.89, -0.123), (69.93, -0.048), (70.01, -0.098), (70.05, -0.063), (70.09, -0.133),
    (70.17, -0.076), (70.21, -0.113), (70.25, -0.053), (70.29, -0.093),
    (70.35, -0.082), (70.39, -0.127), (70.43, -0.052), (70.51, -0.102), (70.55, -0.067), (70.59, -0.137),
    (70.67, -0.08), (70.71, -0.117), (70.75, -0.057), (70.79, -0.097),
    (70.85, -0.086), (70.89, -0.131), (70.93, -0.056), (71.01, -0.106), (71.05, -0.071), (71.09, -0.141),
    (71.17, -0.084), (71.21, -0.121), (71.25, -0.061), (71.29, -0.101),
    (71.35, -0.091), (71.39, -0.136), (71.43, -0.061), (71.51, -0.111), (71.55, -0.076), (71.59, -0.146),
    (71.67, -0.089), (71.71, -0.126), (71.75, -0.066), (71.79, -0.106),
    (71.85, -0.098), (71.89, -0.143), (71.93, -0.068), (72.01, -0.118), (72.05, -0.083), (72.09, -0.153),
    (72.17, -0.096), (72.21, -0.133), (72.25, -0.073), (72.29, -0.113),
    (72.35, -0.106), (72.39, -0.151), (72.43, -0.076), (72.51, -0.126), (72.55, -0.091), (72.59, -0.161),
    (72.67, -0.104), (72.71, -0.141), (72.75, -0.081), (72.79, -0.121),
    (72.85, -0.117), (72.89, -0.162), (72.93, -0.087), (73.01, -0.137), (73.05, -0.102), (73.09, -0.172),
    (73.17, -0.115), (73.21, -0.152), (73.25, -0.092), (73.29, -0.132),
    (73.35, -0.132), (73.39, -0.177), (73.43, -0.102), (73.51, -0.152), (73.55, -0.117), (73.59, -0.187),
    (73.67, -0.13), (73.71, -0.167), (73.75, -0.107), (73.79, -0.147),
    (73.85, -0.148), (73.89, -0.193), (73.93, -0.118), (74.01, -0.168), (74.05, -0.133), (74.09, -0.203),
    (74.17, -0.146), (74.21, -0.183), (74.25, -0.123), (74.29, -0.163),
    (74.35, -0.17), (74.39, -0.215), (74.43, -0.14), (74.51, -0.19), (74.55, -0.155), (74.59, -0.225),
    (74.67, -0.168), (74.71, -0.205), (74.75, -0.145), (74.79, -0.185),
]
c_sparse = [
    (74.78, -0.338), (75.08, -0.351), (75.15, -0.373), (75.42, -0.367), (75.64, -0.418),
    (75.82, -0.404), (75.62, -0.480), (76.14, -0.438), (76.19, -0.480), (75.97, -0.548),
    (76.37, -0.548), (76.63, -0.484), (76.96, -0.490), (76.63, -0.511), (77.15, -0.527),
    (77.22, -0.545), (77.45, -0.551), (77.10, -0.567), (77.22, -0.573), (77.42, -0.597),
    (76.30, -0.684), (77.34, -0.718), (76.90, -0.763), (77.77, -0.800), (75.85, -0.219),
    (76.34, -0.336), (76.41, -0.348), (76.56, -0.385), (76.71, -0.397), (76.93, -0.404),
    (73.57, -0.241), (73.89, -0.244), (74.63, -0.281), (74.86, -0.283), (71.82, -0.047),
    (69.97, -0.145), (65.97, 0.088), (65.08, 0.018), (66.11, -0.174), (66.56, -0.158),
    (67.22, -0.186), (62.93, 0.005), (63.30, -0.004), (66.93, -0.002), (68.04, -0.023),
    (68.78, -0.152), (69.15, -0.135), (68.74, -0.155),
]
c_xticks = [65, 70, 75]
c_yticks = [-0.8, -0.6, -0.4, -0.2, 0.0]

fig = plt.figure(figsize=(10.27, 6.84), dpi=100)

# panel a
ax1 = fig.add_axes([0.1577, 0.6535, 0.817, 0.2778])
for t, g in zip(a_t, a_g):
    ax1.plot(t, g, color=blue_line, lw=3.0, solid_joinstyle='round', solid_capstyle='round')
# join the cycles (vertical resets)
for k in range(len(a_t) - 1):
    ax1.plot([a_t[k][-1], a_t[k + 1][0]], [a_g[k][-1], a_g[k + 1][0]],
             color=blue_line, lw=3.0, solid_capstyle='round')
ax1.set_xlim(-510, 9020)
ax1.set_ylim(57.6, 82.3)
ax1.set_xticks(a_xticks)
ax1.set_yticks(a_yticks)
ax1.tick_params(labelsize=22, length=8, width=2, pad=10)
for s in ax1.spines.values():
    s.set_linewidth(2.3)

# panel b
ax2 = fig.add_axes([0.1227, 0.1082, 0.3768, 0.3889])
b_all = b_sparse + b_band + b_core
ax2.scatter([p[0] for p in b_all], [p[1] for p in b_all], s=20, color=blue_dot, edgecolors='none')
ax2.set_xlim(63.45, 79.64)
ax2.set_ylim(-0.368, 0.883)
ax2.set_xticks(b_xticks)
ax2.set_yticks(b_yticks)
ax2.tick_params(labelsize=17, length=6, width=1.5, pad=9)
for s in ax2.spines.values():
    s.set_linewidth(1.8)
    s.set_color('#222222')

# panel c (right edge runs off the figure)
ax3 = fig.add_axes([0.6297, 0.1082, 0.3878, 0.3889])
c_all = c_band + c_core + c_sparse
ax3.scatter([p[0] for p in c_all], [p[1] for p in c_all], s=20, color=blue_dot, edgecolors='none')
ax3.set_xlim(61.3, 79.0)
ax3.set_ylim(-0.845, 0.135)
ax3.set_xticks(c_xticks)
ax3.set_yticks(c_yticks)
ax3.tick_params(labelsize=17, length=6, width=1.5, pad=7)
for s in ax3.spines.values():
    s.set_linewidth(1.8)
    s.set_color('#222222')

W, H = 1027, 684
lab = dict(family='Liberation Sans', weight='bold')
fig.text(50 / W, 1 - 147 / H, 'G (μS)', rotation=90, ha='center', va='center',
         fontsize=25, family='DejaVu Sans', weight='bold')
fig.text(573 / W, 1 - 305 / H, 'Time (s)', ha='center', va='center',
         fontsize=30, family='Lato', weight='bold')
fig.text(33 / W, 1 - 490 / H, 'ΔG (μS)', rotation=90, ha='center', va='center', fontsize=19, **lab)
fig.text(312 / W, 1 - 663 / H, 'Initial Conductance (μS)', ha='center', va='center', fontsize=20, **lab)
fig.text(557 / W, 1 - 479 / H, 'ΔG (μS)', rotation=90, ha='center', va='center', fontsize=19, **lab)
fig.text(844 / W, 1 - 660 / H, 'Initial Conductance (μS)', ha='center', va='center', fontsize=20, **lab)

fig.text(29 / W, 1 - 47 / H, 'a', ha='left', va='baseline', fontsize=46, **lab)
fig.text(10 / W, 1 - 375 / H, 'b', ha='left', va='baseline', fontsize=42, **lab)
fig.text(543 / W, 1 - 372 / H, 'c', ha='left', va='baseline', fontsize=42, **lab)

fig.savefig('out.png', dpi=100)
plt.close()
